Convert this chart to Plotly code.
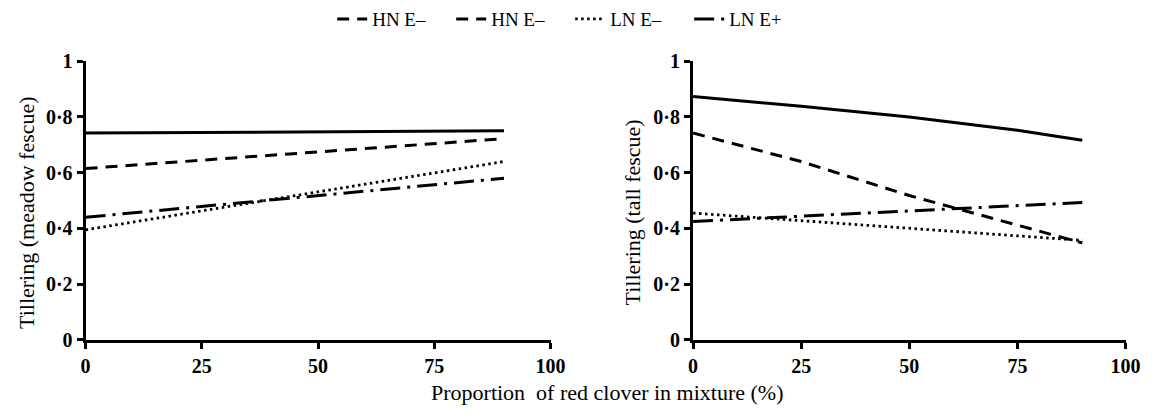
import plotly.graph_objects as go

# Data
x_pts = [0, 25, 50, 75, 90]
meadow_solid = [0.742, 0.744, 0.746, 0.748, 0.750]
meadow_hn_dash = [0.615, 0.645, 0.675, 0.705, 0.722]
meadow_ln_dot = [0.395, 0.463, 0.530, 0.598, 0.640]
meadow_ln_dashdot = [0.440, 0.479, 0.518, 0.557, 0.580]

tall_solid = [0.873, 0.838, 0.800, 0.752, 0.716]
tall_hn_dash = [0.742, 0.640, 0.518, 0.412, 0.348]
tall_ln_dot = [0.455, 0.428, 0.400, 0.373, 0.357]
tall_ln_dashdot = [0.425, 0.444, 0.463, 0.482, 0.493]

y_tickvals = [0, 0.2, 0.4, 0.6, 0.8, 1]
y_ticktext = ["0", "0·2", "0·4", "0·6", "0·8", "1"]
x_tickvals = [0, 25, 50, 75, 100]
x_ticktext = ["0", "25", "50", "75", "100"]

legend_names = ["HN E–", "HN E–", "LN E–", "LN E+"]

SERIF = "Liberation Serif"
DASH = "12px,8px"
DOT = "2.5px,3.5px"
DASHDOT = "20px,7px,3px,7px"

fig = go.Figure()

# legend-only entry (first dashed "HN E–")
fig.add_trace(go.Scatter(x=[None], y=[None], mode="lines", name=legend_names[0],
                         line=dict(color="black", width=3, dash=DASH),
                         xaxis="x", yaxis="y", showlegend=True))

def add(xs, ys, dash, width, name, show, ax):
    fig.add_trace(go.Scatter(x=xs, y=ys, mode="lines", name=name,
                             line=dict(color="black", width=width, dash=dash),
                             xaxis=ax[0], yaxis=ax[1], showlegend=show,
                             hoverinfo="skip"))

add(x_pts, meadow_solid, "solid", 3, "HN E+", False, ("x", "y"))
add(x_pts, meadow_hn_dash, DASH, 3, legend_names[1], True, ("x", "y"))
add(x_pts, meadow_ln_dot, DOT, 2.8, legend_names[2], True, ("x", "y"))
add(x_pts, meadow_ln_dashdot, DASHDOT, 3, legend_names[3], True, ("x", "y"))

add(x_pts, tall_solid, "solid", 3, "HN E+", False, ("x2", "y2"))
add(x_pts, tall_hn_dash, DASH, 3, legend_names[1], False, ("x2", "y2"))
add(x_pts, tall_ln_dot, DOT, 2.8, legend_names[2], False, ("x2", "y2"))
add(x_pts, tall_ln_dashdot, DASHDOT, 3, legend_names[3], False, ("x2", "y2"))

tickfont = dict(family=SERIF, size=20, color="black", weight="bold")
xaxis_common = dict(range=[0, 100], tickvals=x_tickvals, ticktext=x_ticktext,
                    showline=True, linecolor="black", linewidth=3, ticks="outside",
                    ticklen=6, tickwidth=2.5, tickcolor="black", showgrid=False,
                    zeroline=False, tickfont=tickfont)
yaxis_common = dict(range=[0, 1], tickvals=y_tickvals, ticktext=y_ticktext,
                    showline=True, linecolor="black", linewidth=3, ticks="outside",
                    ticklen=6, tickwidth=2.5, tickcolor="black", showgrid=False,
                    zeroline=False, tickfont=tickfont)

ydom = [72 / 419, 367 / 419]
titlefont = dict(family=SERIF, size=22, color="black")
fig.update_layout(
    width=1170, height=419,
    margin=dict(l=0, r=0, t=0, b=0),
    paper_bgcolor="white", plot_bgcolor="white",
    xaxis=dict(xaxis_common, domain=[82 / 1170, 555 / 1170], anchor="y"),
    yaxis=dict(yaxis_common, domain=ydom, anchor="x"),
    xaxis2=dict(xaxis_common, domain=[700 / 1170, 1140 / 1170], anchor="y2"),
    yaxis2=dict(yaxis_common, domain=ydom, anchor="x2"),
    legend=dict(orientation="h", x=575 / 1170, xanchor="center",
                y=1.03, yanchor="top",
                font=dict(family=SERIF, size=19, color="black"),
                itemwidth=30, entrywidth=74, entrywidthmode="pixels",
                bgcolor="rgba(0,0,0,0)"),
    showlegend=True,
    annotations=[
        dict(text="Tillering (meadow fescue)", x=22 / 1170, y=(419 - 212) / 419,
             xref="paper", yref="paper", textangle=-90, showarrow=False,
             font=titlefont, xanchor="center", yanchor="middle"),
        dict(text="Tillering (tall fescue)", x=638 / 1170, y=(419 - 212) / 419,
             xref="paper", yref="paper", textangle=-90, showarrow=False,
             font=titlefont, xanchor="center", yanchor="middle"),
        dict(text="Proportion  of red clover in mixture (%)", x=613 / 1170, y=(419 - 403) / 419,
             xref="paper", yref="paper", showarrow=False,
             font=titlefont, xanchor="center", yanchor="middle"),
    ],
)

fig.write_html("out.html")
